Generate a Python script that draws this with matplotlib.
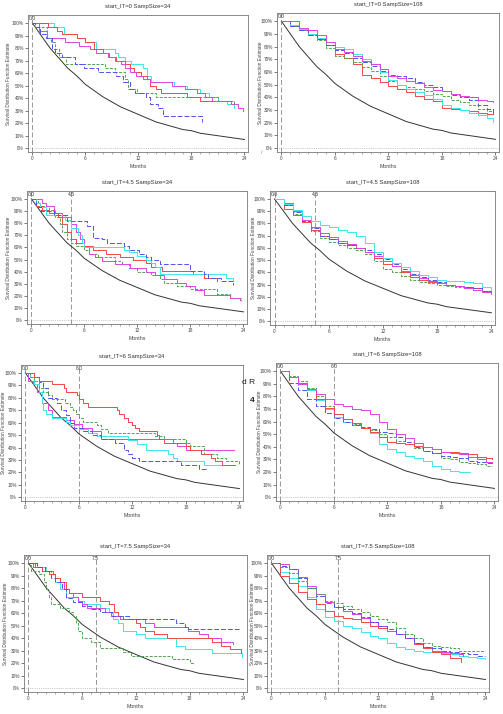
import numpy as np
import matplotlib
matplotlib.use("Agg")
import matplotlib.pyplot as plt
from matplotlib.ticker import MultipleLocator, FuncFormatter

plt.rcParams["font.family"] = ["Liberation Sans", "DejaVu Sans"]

# ── 기준 지수 곡선 ──────────────────────────
ref_t = list(range(25))
ref_s = [1.00, 0.90, 0.80, 0.72, 0.64, 0.58, 0.51, 0.46, 0.41, 0.37, 0.33, 0.30, 0.27,
         0.24, 0.21, 0.19, 0.17, 0.15, 0.14, 0.12, 0.11, 0.10, 0.09, 0.08, 0.07]

# ── panel 1 : start_IT=0, n=34 ──
p1_red_t = [0, 1.8, 2.8, 3.4, 5.0, 6.0, 7.0, 8.0, 8.7, 9.5, 10.5, 11.0, 11.5, 12.3, 13.0, 13.3, 14.0, 14.5, 17.5, 19.0, 22.5]
p1_red_s = [1.00, 0.97, 0.94, 0.91, 0.88, 0.85, 0.79, 0.76, 0.73, 0.70, 0.67, 0.64, 0.61, 0.58, 0.55, 0.50, 0.47, 0.44, 0.41, 0.38, 0.38]
p1_cyan_t = [0, 2.4, 3.6, 5.0, 6.0, 7.2, 9.3, 9.7, 10.5, 11.2, 12.5, 13.0, 13.4, 16.0, 17.5, 19.0, 20.0, 21.0, 22.0, 22.8]
p1_cyan_s = [1.00, 0.97, 0.91, 0.88, 0.85, 0.79, 0.76, 0.73, 0.70, 0.67, 0.64, 0.58, 0.53, 0.50, 0.47, 0.44, 0.41, 0.38, 0.35, 0.32]
p1_mag_t = [0, 0.8, 1.7, 3.7, 5.3, 6.5, 7.2, 8.5, 9.4, 10.0, 10.5, 11.0, 11.7, 12.5, 13.3, 15.8, 17.3, 18.6, 19.5, 20.3, 22.5, 23.3, 23.8]
p1_mag_s = [1.00, 0.94, 0.88, 0.85, 0.82, 0.79, 0.76, 0.73, 0.70, 0.67, 0.64, 0.61, 0.58, 0.55, 0.53, 0.50, 0.47, 0.44, 0.41, 0.38, 0.35, 0.32, 0.30]
p1_green_t = [0, 0.7, 1.7, 2.1, 2.5, 3.0, 3.8, 8.2, 9.3, 10.5, 10.8, 11.8, 14.0, 21.0, 22.8]
p1_green_s = [1.00, 0.97, 0.88, 0.85, 0.79, 0.73, 0.67, 0.64, 0.61, 0.55, 0.47, 0.44, 0.41, 0.38, 0.35]
p1_blue_t = [0, 0.3, 0.9, 1.5, 2.2, 2.6, 3.4, 4.8, 5.8, 7.4, 9.5, 10.3, 11.0, 11.6, 12.8, 13.3, 14.2, 14.8, 19.2]
p1_blue_s = [1.00, 0.97, 0.91, 0.88, 0.79, 0.76, 0.73, 0.67, 0.64, 0.61, 0.58, 0.53, 0.47, 0.44, 0.41, 0.35, 0.32, 0.26, 0.21]

# ── panel 2 : start_IT=0, n=108 ──
p2_t = [0, 1, 2, 3, 4, 5, 6, 7, 8, 9, 10, 11, 12, 13, 14, 15, 16, 17, 18, 19, 20, 21, 22, 23, 23.7]
p2_mag_s = [1.00, 1.00, 0.95, 0.93, 0.89, 0.84, 0.78, 0.76, 0.73, 0.69, 0.66, 0.62, 0.57, 0.55, 0.53, 0.51, 0.48, 0.46, 0.45, 0.43, 0.41, 0.40, 0.38, 0.37, 0.36]
p2_blue_s = [1.00, 0.96, 0.93, 0.89, 0.86, 0.81, 0.77, 0.75, 0.71, 0.68, 0.65, 0.61, 0.58, 0.57, 0.55, 0.52, 0.50, 0.48, 0.45, 0.42, 0.40, 0.38, 0.34, 0.31, 0.28]
p2_green_s = [1.00, 0.96, 0.93, 0.89, 0.85, 0.79, 0.73, 0.71, 0.68, 0.64, 0.61, 0.57, 0.53, 0.50, 0.48, 0.47, 0.45, 0.43, 0.41, 0.38, 0.36, 0.34, 0.31, 0.29, 0.26]
p2_cyan_s = [1.00, 0.97, 0.94, 0.90, 0.87, 0.84, 0.80, 0.78, 0.74, 0.70, 0.66, 0.60, 0.54, 0.50, 0.47, 0.44, 0.42, 0.39, 0.34, 0.32, 0.30, 0.28, 0.26, 0.24, 0.21]
p2_red_s = [1.00, 0.96, 0.93, 0.90, 0.86, 0.81, 0.74, 0.71, 0.66, 0.58, 0.55, 0.52, 0.49, 0.47, 0.44, 0.41, 0.39, 0.37, 0.32, 0.31, 0.30, 0.29, 0.28, 0.27, 0.27]

# ── panel 3 : start_IT=4.5, n=34 ──
p3_blue_t = [0, 0.5, 1.1, 2.5, 4.0, 6.3, 7.0, 8.0, 8.5, 10.5, 11.0, 12.2, 13.0, 13.5, 14.5, 18.0, 19.5, 20.0, 21.5, 22.8]
p3_blue_s = [1.00, 0.93, 0.90, 0.87, 0.82, 0.78, 0.68, 0.67, 0.64, 0.61, 0.58, 0.55, 0.52, 0.50, 0.46, 0.41, 0.38, 0.35, 0.32, 0.29]
p3_cyan_t = [0, 0.5, 1.0, 1.6, 3.8, 4.5, 5.3, 5.7, 6.0, 10.5, 11.0, 12.0, 13.0, 13.5, 14.0, 14.5, 22.0, 22.8]
p3_cyan_s = [1.00, 0.97, 0.93, 0.87, 0.83, 0.76, 0.70, 0.64, 0.60, 0.58, 0.56, 0.53, 0.50, 0.47, 0.44, 0.38, 0.35, 0.32]
p3_red_t = [0, 0.5, 1.2, 2.0, 3.0, 3.5, 4.0, 4.5, 5.0, 6.0, 7.0, 8.4, 10.0, 11.5, 13.0, 13.5, 14.8, 18.3, 19.5, 21.0]
p3_red_s = [1.00, 0.94, 0.91, 0.88, 0.85, 0.79, 0.73, 0.67, 0.64, 0.61, 0.58, 0.55, 0.52, 0.50, 0.47, 0.44, 0.41, 0.38, 0.35, 0.32]
p3_mag_t = [0, 1.2, 1.6, 2.5, 3.5, 4.5, 5.0, 5.5, 6.0, 6.5, 7.2, 8.0, 9.5, 11.2, 13.0, 14.0, 15.0, 16.5, 17.5, 18.5, 19.5, 22.5, 23.6]
p3_mag_s = [1.00, 0.97, 0.94, 0.88, 0.85, 0.79, 0.73, 0.67, 0.61, 0.55, 0.52, 0.49, 0.46, 0.43, 0.40, 0.37, 0.34, 0.31, 0.28, 0.25, 0.21, 0.18, 0.17]
p3_green_t = [0, 0.7, 1.0, 2.0, 2.7, 3.2, 3.5, 4.0, 4.5, 5.0, 6.0, 6.5, 7.5, 9.5, 10.3, 11.0, 12.0, 13.5, 14.5, 15.0, 16.5, 18.0, 21.0, 22.5, 23.7]
p3_green_s = [1.00, 0.97, 0.94, 0.91, 0.85, 0.79, 0.73, 0.67, 0.64, 0.61, 0.58, 0.55, 0.52, 0.49, 0.46, 0.43, 0.40, 0.37, 0.34, 0.31, 0.28, 0.26, 0.22, 0.18, 0.16]

# ── panel 4 : start_IT=4.5, n=108 ──
p4_t = [0, 1, 2, 3, 4, 5, 6, 7, 8, 9, 10, 11, 12, 13, 14, 15, 16, 17, 18, 19, 20, 21, 22, 23, 24]
p4_cyan_s = [1.00, 0.96, 0.91, 0.86, 0.82, 0.79, 0.77, 0.75, 0.73, 0.70, 0.64, 0.57, 0.52, 0.48, 0.44, 0.41, 0.38, 0.36, 0.34, 0.33, 0.33, 0.32, 0.31, 0.28, 0.26]
p4_mag_s = [1.00, 0.97, 0.90, 0.83, 0.77, 0.72, 0.69, 0.66, 0.63, 0.60, 0.57, 0.53, 0.49, 0.45, 0.41, 0.38, 0.35, 0.33, 0.31, 0.30, 0.29, 0.27, 0.26, 0.24, 0.22]
p4_blue_s = [1.00, 0.95, 0.89, 0.82, 0.76, 0.70, 0.67, 0.64, 0.62, 0.60, 0.58, 0.55, 0.51, 0.47, 0.43, 0.39, 0.36, 0.34, 0.32, 0.30, 0.29, 0.28, 0.27, 0.25, 0.23]
p4_red_s = [1.00, 0.92, 0.87, 0.81, 0.75, 0.70, 0.67, 0.64, 0.62, 0.60, 0.57, 0.52, 0.47, 0.45, 0.40, 0.36, 0.34, 0.32, 0.31, 0.30, 0.29, 0.28, 0.27, 0.25, 0.23]
p4_green_s = [1.00, 0.95, 0.88, 0.81, 0.74, 0.68, 0.65, 0.62, 0.60, 0.58, 0.55, 0.49, 0.43, 0.40, 0.37, 0.34, 0.32, 0.31, 0.30, 0.29, 0.28, 0.27, 0.26, 0.25, 0.24]

# ── panel 5 : start_IT=6, n=34 ──
p5_red_t = [0, 1.0, 1.5, 3.0, 4.3, 4.5, 5.8, 6.0, 6.5, 7.0, 10.3, 10.5, 11.0, 11.5, 12.0, 12.3, 12.7, 14.7, 15.0, 15.5, 18.0, 18.5, 19.7, 20.8, 21.3, 22.0, 23.5]
p5_red_s = [1.00, 0.97, 0.94, 0.91, 0.88, 0.85, 0.82, 0.79, 0.76, 0.73, 0.70, 0.67, 0.64, 0.61, 0.58, 0.56, 0.53, 0.50, 0.47, 0.44, 0.41, 0.38, 0.35, 0.32, 0.29, 0.26, 0.26]
p5_green_t = [0, 0.5, 1.0, 1.5, 2.0, 2.5, 3.0, 4.4, 5.0, 5.3, 5.7, 6.0, 6.5, 8.0, 8.5, 9.3, 14.5, 15.5, 18.0, 18.5, 20.0, 21.5, 22.5, 23.9]
p5_green_s = [1.00, 0.97, 0.94, 0.88, 0.85, 0.82, 0.79, 0.76, 0.73, 0.70, 0.67, 0.64, 0.61, 0.58, 0.55, 0.52, 0.49, 0.47, 0.44, 0.41, 0.35, 0.32, 0.29, 0.27]
p5_blue_t = [0, 1.0, 1.5, 2.0, 2.5, 3.5, 4.0, 4.5, 5.0, 5.5, 6.5, 7.5, 8.5, 10.0, 11.0, 11.5, 12.0, 12.7, 17.5, 19.5, 20.3]
p5_blue_s = [1.00, 0.97, 0.93, 0.88, 0.80, 0.76, 0.70, 0.66, 0.60, 0.56, 0.53, 0.50, 0.47, 0.44, 0.38, 0.35, 0.32, 0.29, 0.26, 0.23, 0.21]
p5_cyan_t = [0, 0.5, 1.0, 1.5, 1.8, 2.0, 2.3, 3.0, 4.5, 5.0, 6.0, 7.0, 8.0, 11.5, 12.5, 13.5, 16.0, 16.5, 17.0, 20.0, 23.5]
p5_cyan_s = [1.00, 0.97, 0.91, 0.85, 0.76, 0.70, 0.67, 0.64, 0.61, 0.58, 0.55, 0.52, 0.49, 0.46, 0.43, 0.38, 0.35, 0.32, 0.29, 0.26, 0.26]
p5_mag_t = [0, 0.3, 0.8, 1.3, 1.8, 2.5, 3.0, 4.5, 5.5, 6.3, 7.5, 8.5, 16.5, 17.0, 18.0, 23.4]
p5_mag_s = [1.00, 0.94, 0.91, 0.85, 0.76, 0.70, 0.65, 0.62, 0.59, 0.56, 0.53, 0.47, 0.44, 0.41, 0.38, 0.38]

# ── panel 6 : start_IT=6, n=108 ──
p6_t = [0, 1, 2, 3, 4, 5, 6, 7, 8, 9, 10, 11, 12, 13, 14, 15, 16, 17, 18, 19, 20, 21, 22, 23, 23.7]
p6_cyan_t = [0, 1, 2, 3, 4, 5, 6, 7, 8, 9, 10, 11, 12, 13, 14, 15, 16, 17, 18, 19, 20, 21.3]
p6_mag_s = [1.00, 0.95, 0.90, 0.86, 0.82, 0.78, 0.74, 0.72, 0.70, 0.69, 0.66, 0.60, 0.54, 0.50, 0.47, 0.43, 0.40, 0.38, 0.36, 0.35, 0.34, 0.32, 0.30, 0.28, 0.28]
p6_red_s = [1.00, 0.95, 0.91, 0.86, 0.78, 0.71, 0.66, 0.62, 0.59, 0.55, 0.52, 0.48, 0.44, 0.43, 0.42, 0.41, 0.40, 0.38, 0.36, 0.36, 0.35, 0.34, 0.32, 0.31, 0.30]
p6_green_s = [1.00, 0.96, 0.92, 0.87, 0.80, 0.72, 0.66, 0.62, 0.58, 0.55, 0.53, 0.50, 0.48, 0.45, 0.42, 0.39, 0.37, 0.35, 0.31, 0.30, 0.28, 0.27, 0.26, 0.25, 0.25]
p6_cyan_s = [1.00, 0.95, 0.90, 0.85, 0.77, 0.70, 0.64, 0.60, 0.57, 0.55, 0.51, 0.42, 0.38, 0.36, 0.33, 0.31, 0.29, 0.25, 0.22, 0.21, 0.20, 0.20]
p6_blue_s = [1.00, 0.91, 0.85, 0.78, 0.72, 0.67, 0.63, 0.60, 0.57, 0.56, 0.54, 0.52, 0.51, 0.48, 0.44, 0.40, 0.37, 0.35, 0.33, 0.32, 0.31, 0.29, 0.28, 0.27, 0.26]

# ── panel 7 : start_IT=7.5, n=34 ──
p7_red_t = [0, 0.7, 1.5, 2.3, 3.0, 3.5, 4.2, 4.5, 6.0, 8.0, 9.0, 9.5, 10.0, 10.5, 12.0, 12.5, 13.0, 14.0, 15.5, 20.5, 21.5, 22.5, 23.7]
p7_red_s = [1.00, 0.97, 0.94, 0.91, 0.88, 0.85, 0.79, 0.76, 0.73, 0.70, 0.67, 0.61, 0.58, 0.55, 0.52, 0.49, 0.46, 0.43, 0.40, 0.37, 0.34, 0.31, 0.28]
p7_blue_t = [0, 1.0, 1.8, 2.5, 3.0, 3.7, 4.2, 5.0, 6.0, 7.0, 8.0, 9.3, 11.2, 16.5, 17.5, 17.8, 23.7]
p7_blue_s = [1.00, 0.97, 0.94, 0.88, 0.85, 0.79, 0.72, 0.69, 0.66, 0.63, 0.61, 0.58, 0.55, 0.52, 0.49, 0.47, 0.47]
p7_mag_t = [0, 0.5, 1.5, 2.7, 3.0, 3.5, 4.0, 4.5, 5.0, 5.5, 6.0, 6.5, 8.5, 9.2, 10.2, 13.0, 14.0, 17.8, 19.0, 20.0, 21.5, 22.8]
p7_mag_s = [1.00, 0.97, 0.94, 0.91, 0.88, 0.85, 0.79, 0.76, 0.73, 0.70, 0.67, 0.64, 0.61, 0.58, 0.55, 0.52, 0.49, 0.46, 0.43, 0.40, 0.37, 0.35]
p7_cyan_t = [0, 1.0, 2.0, 2.7, 3.0, 3.5, 4.2, 5.5, 6.2, 8.0, 9.0, 9.4, 10.0, 10.5, 12.0, 13.0, 16.5, 17.5, 20.5, 23.8]
p7_cyan_s = [1.00, 0.97, 0.94, 0.91, 0.85, 0.79, 0.73, 0.70, 0.67, 0.64, 0.61, 0.55, 0.52, 0.46, 0.43, 0.40, 0.34, 0.31, 0.28, 0.25]
p7_green_t = [0, 0.3, 1.2, 1.7, 2.0, 2.3, 2.5, 3.5, 4.5, 5.0, 5.3, 5.5, 6.0, 7.0, 8.0, 10.5, 11.5, 16.0, 18.0, 18.5]
p7_green_s = [1.00, 0.94, 0.91, 0.85, 0.79, 0.73, 0.67, 0.64, 0.61, 0.58, 0.52, 0.46, 0.40, 0.37, 0.32, 0.29, 0.26, 0.23, 0.20, 0.19]

# ── panel 8 : start_IT=7.5, n=108 ──
p8_t = [0, 1, 2, 3, 4, 5, 6, 7, 8, 9, 10, 11, 12, 13, 14, 15, 16, 17, 18, 19, 20, 21, 22, 23, 24]
p8_mag_t = [0, 1, 2, 3, 4, 5, 6, 7, 8, 9, 10, 11, 12, 13, 14, 15, 16, 17, 18, 19, 20, 21, 21.5]
p8_red_t = [0, 1, 2, 3, 4, 5, 6, 7, 8, 9, 10, 11, 12, 13, 14, 15, 16, 17, 18, 19, 20, 21.3]
p8_green_s = [1.00, 0.97, 0.92, 0.86, 0.80, 0.75, 0.70, 0.68, 0.66, 0.63, 0.61, 0.58, 0.55, 0.53, 0.48, 0.43, 0.40, 0.36, 0.34, 0.33, 0.32, 0.30, 0.30, 0.30, 0.30]
p8_blue_s = [1.00, 0.98, 0.95, 0.88, 0.80, 0.74, 0.68, 0.65, 0.63, 0.60, 0.57, 0.53, 0.50, 0.47, 0.43, 0.40, 0.36, 0.33, 0.32, 0.30, 0.29, 0.28, 0.27, 0.26, 0.26]
p8_mag_s = [1.00, 0.99, 0.95, 0.89, 0.82, 0.75, 0.69, 0.65, 0.62, 0.59, 0.56, 0.53, 0.50, 0.46, 0.43, 0.40, 0.36, 0.33, 0.30, 0.29, 0.28, 0.27, 0.26]
p8_red_s = [1.00, 0.90, 0.84, 0.77, 0.71, 0.67, 0.62, 0.58, 0.56, 0.55, 0.53, 0.50, 0.48, 0.46, 0.43, 0.40, 0.35, 0.32, 0.29, 0.27, 0.24, 0.21]
p8_cyan_s = [1.00, 0.93, 0.88, 0.82, 0.73, 0.63, 0.57, 0.54, 0.50, 0.48, 0.45, 0.42, 0.40, 0.36, 0.33, 0.31, 0.30, 0.29, 0.29, 0.28, 0.27, 0.26, 0.25, 0.24, 0.23]

# ── 스타일 ──
COL = {"red": "#f04848", "green": "#4fa64f", "blue": "#5252ee",
       "cyan": "#3ee6e6", "mag": "#e044e0"}
DASH = {"red": "-", "green": (0, (3, 1.5)), "blue": (0, (5, 2)),
        "cyan": "-", "mag": "-"}

W, H = 503, 714
fig = plt.figure(figsize=(W / 100, H / 100), dpi=100)

def px_axes(left, top, width, height):
    return fig.add_axes([left / W, 1 - (top + height) / H, width / W, height / H])

panels = [
    # (box px, ylabel centre x px, title, start_IT, curves)
    ((28, 15, 220, 137), 9, "start_IT=0 SampSize=34", 0,
     [("cyan", p1_cyan_t, p1_cyan_s), ("red", p1_red_t, p1_red_s), ("mag", p1_mag_t, p1_mag_s),
      ("green", p1_green_t, p1_green_s), ("blue", p1_blue_t, p1_blue_s)]),
    ((277, 13, 222, 139), 261, "start_IT=0 SampSize=108", 0,
     [("red", p2_t, p2_red_s), ("green", p2_t, p2_green_s), ("cyan", p2_t, p2_cyan_s),
      ("blue", p2_t, p2_blue_s), ("mag", p2_t, p2_mag_s)]),
    ((27, 191, 220, 133), 9, "start_IT=4.5 SampSize=34", 4.5,
     [("green", p3_green_t, p3_green_s), ("mag", p3_mag_t, p3_mag_s), ("red", p3_red_t, p3_red_s),
      ("cyan", p3_cyan_t, p3_cyan_s), ("blue", p3_blue_t, p3_blue_s)]),
    ((270, 191, 225, 134), 254, "start_IT=4.5 SampSize=108", 4.5,
     [("green", p4_t, p4_green_s), ("red", p4_t, p4_red_s), ("blue", p4_t, p4_blue_s),
      ("mag", p4_t, p4_mag_s), ("cyan", p4_t, p4_cyan_s)]),
    ((21, 365, 222, 136), 4, "start_IT=6 SampSize=34", 6,
     [("mag", p5_mag_t, p5_mag_s), ("cyan", p5_cyan_t, p5_cyan_s), ("blue", p5_blue_t, p5_blue_s),
      ("green", p5_green_t, p5_green_s), ("red", p5_red_t, p5_red_s)]),
    ((276, 363, 222, 138), 260, "start_IT=6 SampSize=108", 6,
     [("cyan", p6_cyan_t, p6_cyan_s), ("green", p6_t, p6_green_s), ("blue", p6_t, p6_blue_s),
      ("red", p6_t, p6_red_s), ("mag", p6_t, p6_mag_s)]),
    ((24, 555, 223, 137), 6, "start_IT=7.5 SampSize=34", 7.5,
     [("green", p7_green_t, p7_green_s), ("cyan", p7_cyan_t, p7_cyan_s), ("mag", p7_mag_t, p7_mag_s),
      ("red", p7_red_t, p7_red_s), ("blue", p7_blue_t, p7_blue_s)]),
    ((267, 555, 222, 137), 253, "start_IT=7.5 SampSize=108", 7.5,
     [("cyan", p8_t, p8_cyan_s), ("red", p8_red_t, p8_red_s), ("mag", p8_mag_t, p8_mag_s),
      ("blue", p8_t, p8_blue_s), ("green", p8_t, p8_green_s)]),
]

pct = FuncFormatter(lambda v, _: f"{v * 100:.0f}%")

for box, ylab_x, title, start_it, curves in panels:
    ax = px_axes(*box)
    ax.set_xlim(-0.5, 24.4)
    ax.set_ylim(-0.03, 1.065)

    # 기준선
    ax.axhline(0, color="#999999", lw=0.5, ls=":")
    for xv in sorted({0, start_it}):
        ax.axvline(xv, color="#888888", lw=0.6, ls=(0, (6, 3)))
        ax.text(xv, 1.058, f"{xv:.1f}", ha="center", va="top", fontsize=3.6, color="#333333")

    ax.plot(ref_t, ref_s, color="#333333", lw=0.7)
    for key, t, s in curves:
        ax.step(t, s, where="post", color=COL[key], ls=DASH[key], lw=0.7)

    ax.xaxis.set_major_locator(MultipleLocator(6))
    ax.xaxis.set_minor_locator(MultipleLocator(1))
    ax.yaxis.set_major_locator(MultipleLocator(0.1))
    ax.yaxis.set_major_formatter(pct)
    ax.tick_params(axis="both", which="major", labelsize=3.4, length=2.0, width=0.5,
                   colors="#444444", pad=1.0)
    ax.tick_params(axis="both", which="minor", length=1.2, width=0.4, colors="#666666")
    for sp in ax.spines.values():
        sp.set_color("#777777")
        sp.set_linewidth(0.6)

    ax.set_title(title, fontsize=4.2, color="#333333", pad=5)
    ax.set_xlabel("Months", fontsize=3.8, color="#444444", labelpad=2)
    ax.set_ylabel("Survival Distribution Function Estimate", fontsize=3.4, color="#444444")
    # 라벨 앵커는 회전된 글자의 오른쪽 가장자리
    ax.yaxis.set_label_coords((ylab_x + 2 - box[0]) / box[2], 0.5)

# 스캔 잡티
fig.text(242 / W, 1 - 383 / H, "d R", fontsize=6, color="#222222", ha="left", va="center")
fig.text(250 / W, 1 - 401 / H, "4", fontsize=6, color="#222222", ha="left", va="center",
         fontweight="bold")
fig.text(262 / W, 1 - 152 / H, "/", fontsize=4, color="#888888", ha="center", va="center")

fig.savefig("out.png", dpi=100)
